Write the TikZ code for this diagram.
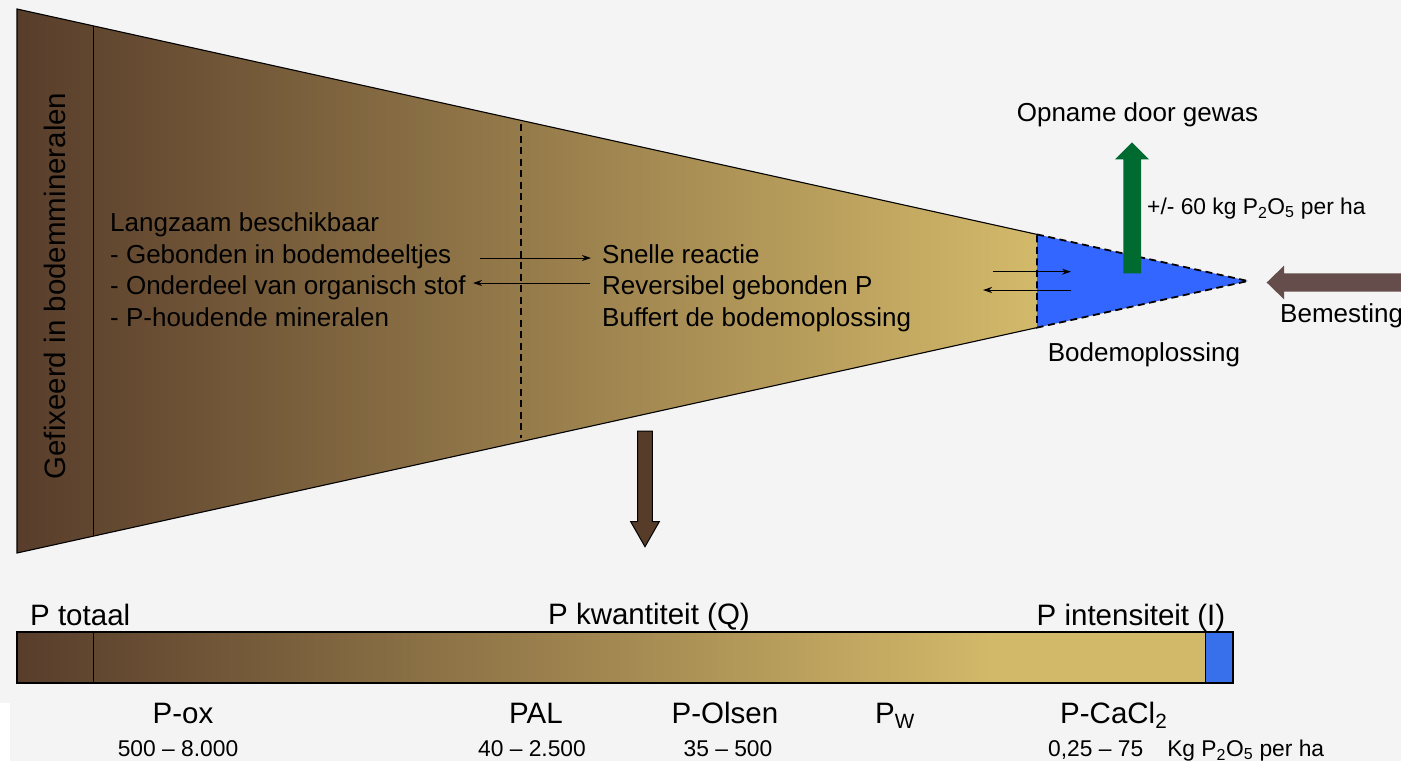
\documentclass[tikz,border=0pt]{standalone}
\usepackage{fontspec}
\setmainfont{Liberation Sans}
\usetikzlibrary{arrows.meta}
\definecolor{bg}{RGB}{244,244,244}
\definecolor{soilL}{RGB}{88,61,43}
\definecolor{soilR}{RGB}{210,184,105}
\definecolor{solblue}{RGB}{51,102,255}
\definecolor{barblue}{RGB}{56,112,235}
\definecolor{cropgreen}{RGB}{0,107,48}
\definecolor{fertbrown}{RGB}{100,77,74}
\definecolor{downbrown}{RGB}{86,60,41}
\pgfdeclarehorizontalshading{soilshade}{100bp}{color(0bp)=(soilL); color(25bp)=(soilL); color(66bp)=(soilR); color(100bp)=(soilR)}
\begin{document}
\begin{tikzpicture}[x=1pt,y=-1pt,
  lbl/.style={inner sep=0pt, font=\fontsize{26}{30}\selectfont},
  big/.style={inner sep=0pt, font=\fontsize{29.5}{34}\selectfont},
  small/.style={inner sep=0pt, font=\fontsize{22.8}{26}\selectfont},
  divider/.style={black, line width=1.8pt, dash pattern=on 7pt off 4.5pt},
  outline/.style={black, line width=1.1pt, line join=miter},
  thinarrow/.style={line width=1pt, -{Stealth[length=9pt,width=6pt]}},
  ]
\fill[bg] (0,0) rectangle (1401,761);
\fill[white] (0,703) rectangle (10,761);
\useasboundingbox (0,0) rectangle (1401,761);

% main soil wedge
\coordinate (TL) at (17,9);
\coordinate (BL) at (17,553);
\coordinate (AP) at (1248,281);
\coordinate (ST) at (1037,234.4);
\coordinate (SB) at (1037,327.6);
\shade[shading=soilshade] (TL) -- (AP) -- (BL) -- cycle;
\draw[line width=1pt] (93,25.8) -- (93,536.2);
\draw[divider] (521,124) -- (521,438);
% solution zone
\fill[solblue] (ST) -- (AP) -- (SB) -- cycle;
\draw[outline] (ST) -- (TL) -- (BL) -- (SB);
\draw[divider] (ST) -- (AP) -- (SB) -- cycle;

% texts in the wedge
\node[font=\fontsize{29.5}{34}\selectfont, inner sep=0pt, rotate=90, anchor=base] (fix) at (65,286) {Gefixeerd in bodemmineralen};
\node[lbl, anchor=base west] (slow1) at (110,231.5) {Langzaam beschikbaar};
\node[lbl, anchor=base west] (slow2) at (110,263) {- Gebonden in bodemdeeltjes};
\node[lbl, anchor=base west] (slow3) at (110,294.5) {- Onderdeel van organisch stof};
\node[lbl, anchor=base west] (slow4) at (110,326) {- P-houdende mineralen};
\node[lbl, anchor=base west] (fast1) at (602,263) {Snelle reactie};
\node[lbl, anchor=base west] (fast2) at (602,294.5) {Reversibel gebonden P};
\node[lbl, anchor=base west] (fast3) at (602,326) {Buffert de bodemoplossing};

% exchange arrows
\coordinate (m1s) at (480,258);
\coordinate (m1e) at (591,258);
\coordinate (m2s) at (590,283);
\coordinate (m2e) at (473,283);
\draw[thinarrow] (m1s) -- (m1e);
\draw[thinarrow] (m2s) -- (m2e);
\coordinate (b1s) at (993,271.7);
\coordinate (b1e) at (1071,271.7);
\coordinate (b2s) at (1071,290);
\coordinate (b2e) at (983,290);
\draw[thinarrow] (b1s) -- (b1e);
\draw[thinarrow] (b2s) -- (b2e);

% uptake arrow
\fill[cropgreen] (1123.3,273.3) -- (1123.3,159.3) -- (1115,159.3) -- (1132,142.3) -- (1149,159.3) -- (1141,159.3) -- (1141,273.3) -- cycle;
\node[lbl, anchor=base] (opname) at (1137.5,121.5) {Opname door gewas};
\node[small, anchor=base west] (dose) at (1147,214) {+/- 60 kg P\textsubscript{2}O\textsubscript{5} per ha};

% fertiliser arrow
\fill[fertbrown] (1266.7,282.5) -- (1284,265.7) -- (1284,273.3) -- (1401,273.3) -- (1401,291.7) -- (1284,291.7) -- (1284,299.3) -- cycle;
\node[lbl, anchor=base west] (bem) at (1280,322) {Bemesting};
\node[lbl, anchor=base] (bodem) at (1144,361) {Bodemoplossing};

% down arrow
\draw[fill=downbrown, line width=1pt, line join=miter] (637.7,431) -- (652.3,431) -- (652.3,521.7) -- (659.3,521.7) -- (645,546.7) -- (630.7,521.7) -- (637.7,521.7) -- cycle;

% bar
\shade[shading=soilshade] (17,632) rectangle (1205,683);
\fill[barblue] (1205,632) rectangle (1233,683);
\draw[outline] (17,632) rectangle (1233,683);
\draw[line width=1pt] (1205,632) -- (1205,683);
\draw[line width=1pt] (93,632) -- (93,683);

\node[big, anchor=base west] (ptot) at (30,625) {P totaal};
\node[big, anchor=base] (pq) at (649,624) {P kwantiteit (Q)};
\node[big, anchor=base] (pint) at (1131,625) {P intensiteit (I)};

\node[big, anchor=base] (pox) at (183,723) {P-ox};
\node[small, anchor=base] (vox) at (178,756) {500 – 8.000};
\node[big, anchor=base] (pal) at (536,723) {PAL};
\node[small, anchor=base] (vpal) at (532,756) {40 – 2.500};
\node[big, anchor=base] (pols) at (725,723) {P-Olsen};
\node[small, anchor=base] (vols) at (728,756) {35 – 500};
\node[big, anchor=base] (pw) at (895,723) {P\textsubscript{W}};
\node[big, anchor=base west] (pcacl) at (1060,723) {P-CaCl\textsubscript{2}};
\node[small, anchor=base west] (vcacl) at (1048,756) {0,25 – 75\hspace{24pt}Kg P\textsubscript{2}O\textsubscript{5} per ha};
\end{tikzpicture}
\end{document}
